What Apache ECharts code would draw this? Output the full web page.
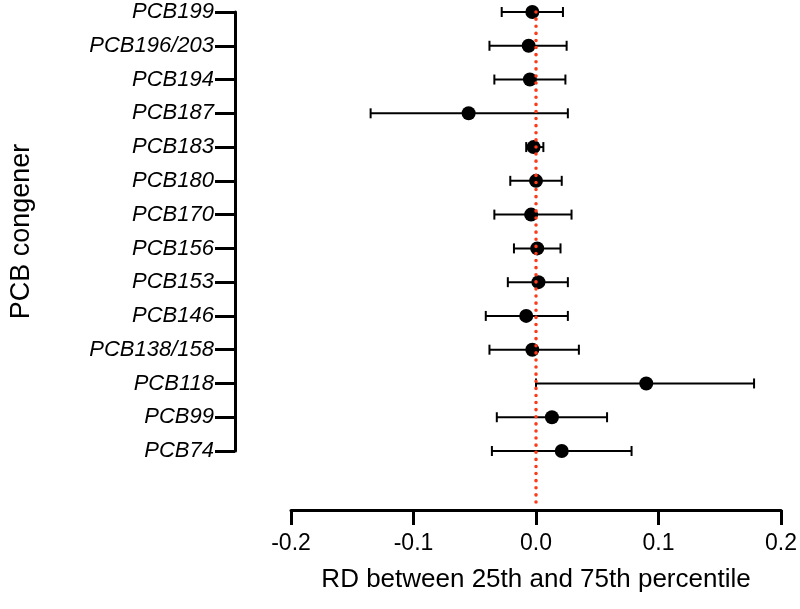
<!DOCTYPE html>
<html>
<head>
<meta charset="utf-8">
<script src="https://cdn.jsdelivr.net/npm/echarts@6/dist/echarts.min.js"></script>
<style>html,body{margin:0;padding:0;background:#fff}#chart{width:800px;height:609px}</style>
</head>
<body>
<div id="chart"></div>
<script>
const categories = ['PCB199','PCB196/203','PCB194','PCB187','PCB183','PCB180','PCB170','PCB156','PCB153','PCB146','PCB138/158','PCB118','PCB99','PCB74'];
const estimates = [-0.003,-0.006,-0.005,-0.055,-0.002,0.000,-0.004,0.001,0.002,-0.008,-0.003,0.090,0.013,0.021];
const lowerCI   = [-0.028,-0.038,-0.034,-0.135,-0.008,-0.021,-0.034,-0.018,-0.023,-0.041,-0.038,0.000,-0.032,-0.036];
const upperCI   = [0.022,0.025,0.024,0.026,0.006,0.021,0.029,0.020,0.026,0.026,0.035,0.178,0.058,0.078];
const xTicks = [-0.2,-0.1,0.0,0.1,0.2];

const FONT = "'Liberation Sans', Arial, Helvetica, sans-serif";
const X_OFFSET = 59;

const chart = echarts.init(document.getElementById('chart'), null, {renderer:'canvas'});

const errData = categories.map((c,i)=>[lowerCI[i], upperCI[i], i]);
const ptData = categories.map((c,i)=>[estimates[i], i]);

chart.setOption({
  animation:false,
  backgroundColor:'#fff',
  grid:{left:288, right:16, top:12, bottom:158, containLabel:false},
  xAxis:{
    type:'value', min:xTicks[0], max:xTicks[xTicks.length-1], interval:0.1,
    position:'bottom', offset:X_OFFSET,
    axisLine:{show:true, onZero:false, lineStyle:{color:'#000', width:3}},
    axisTick:{show:true, length:15, lineStyle:{color:'#000', width:3}},
    axisLabel:{color:'#000', fontFamily:FONT, fontSize:23, margin:22, formatter:v=>v.toFixed(1)},
    splitLine:{show:false},
    name:'RD between 25th and 75th percentile', nameLocation:'middle', nameGap:57,
    nameTextStyle:{color:'#000', fontFamily:FONT, fontSize:26}
  },
  yAxis:{
    type:'category', data:categories, inverse:true, boundaryGap:false,
    position:'left', offset:56,
    axisLine:{show:true, onZero:false, lineStyle:{color:'#000', width:3}},
    axisTick:{show:true, length:20, lineStyle:{color:'#000', width:3}},
    axisLabel:{color:'#000', fontFamily:FONT, fontSize:22, fontStyle:'italic', margin:21},
    splitLine:{show:false},
    name:'PCB congener', nameLocation:'middle', nameGap:200, nameRotate:90,
    nameTextStyle:{color:'#000', fontFamily:FONT, fontSize:27}
  },
  series:[
    {
      type:'custom', name:'CI',
      encode:{x:[0,1], y:2},
      data:errData,
      z:2,
      renderItem:function(params, api){
        const lo = api.coord([api.value(0), api.value(2)]);
        const hi = api.coord([api.value(1), api.value(2)]);
        const h = 5;
        const st = {stroke:'#000', lineWidth:2};
        return {type:'group', children:[
          {type:'line', shape:{x1:lo[0], y1:lo[1], x2:hi[0], y2:hi[1]}, style:st},
          {type:'line', shape:{x1:lo[0], y1:lo[1]-h, x2:lo[0], y2:lo[1]+h}, style:st},
          {type:'line', shape:{x1:hi[0], y1:hi[1]-h, x2:hi[0], y2:hi[1]+h}, style:st}
        ]};
      }
    },
    {
      type:'scatter', name:'RD', data:ptData, symbol:'circle', symbolSize:14,
      itemStyle:{color:'#000', opacity:1}, z:3
    },
    {
      type:'custom', name:'zero', data:[[0,0]], z:4,
      renderItem:function(params, api){
        const cs = params.coordSys;
        const p = api.coord([0, 0]);
        return {type:'line', shape:{x1:p[0], y1:cs.y, x2:p[0], y2:cs.y+cs.height+X_OFFSET-2},
          style:{stroke:'#ff3a1a', lineWidth:3.5, lineDash:[0.1, 7], lineCap:'round'}};
      }
    }
  ]
});
</script>
</body>
</html>
